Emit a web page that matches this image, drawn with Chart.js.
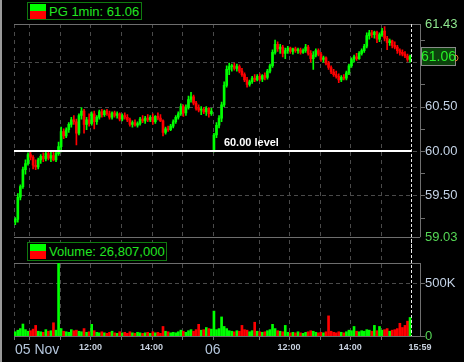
<!DOCTYPE html>
<html>
<head>
<meta charset="utf-8">
<script src="https://cdn.jsdelivr.net/npm/chart.js@4.4.0/dist/chart.umd.min.js"></script>
<style>
  html, body { margin: 0; padding: 0; background: #000; }
  #wrap { position: relative; width: 464px; height: 362px; background: #000; overflow: hidden; }
  #price { position: absolute; left: 0; top: 0; }
  #volume { position: absolute; left: 0; top: 240px; }
  #edge { position: absolute; left: 0; top: 0; width: 2px; height: 362px; background: #9a9a9a; }
  .leg { position: absolute; box-sizing: border-box; border: 1px solid #0f7a0f; background: #000;
         font: 13px "Liberation Sans", Arial, sans-serif; color: #22e622; white-space: nowrap; }
  .leg .g { position: absolute; left: 2px; top: 1px; width: 16px; height: 7px; background: #00ff00; }
  .leg .r { position: absolute; left: 2px; top: 8px; width: 16px; height: 8px; background: #ff0000; }
  .leg span { position: absolute; left: 21px; top: 1px; }
</style>
</head>
<body>
<div id="wrap">
  <canvas id="price" width="464" height="250"></canvas>
  <canvas id="volume" width="464" height="122"></canvas>
  <div id="edge"></div>
  <div class="leg" style="left:27px;top:2px;width:115px;height:18px"><i class="g"></i><i class="r"></i><span>PG 1min: 61.06</span></div>
  <div class="leg" style="left:27px;top:242px;width:140px;height:19px"><i class="g"></i><i class="r"></i><span>Volume: 26,807,000</span></div>
</div>
<script>
// 5-minute candles, 05 Nov (day 1) and 06 Nov (day 2), 09:30 - 16:00
const open1 = [59.20, 59.23, 59.48, 59.60, 59.79, 59.86, 59.96, 59.93, 59.84, 59.82,
  59.90, 59.94, 59.91, 59.97, 59.92, 59.95, 59.90, 59.97, 60.05, 60.22,
  60.17, 60.24, 60.30, 60.35, 60.33, 60.20, 60.40, 60.45, 60.30, 60.35,
  60.31, 60.42, 60.33, 60.38, 60.44, 60.41, 60.45, 60.42, 60.38, 60.43,
  60.40, 60.42, 60.36, 60.40, 60.38, 60.35, 60.30, 60.32, 60.29, 60.31,
  60.36, 60.34, 60.37, 60.35, 60.38, 60.33, 60.39, 60.37, 60.34, 60.21,
  60.25, 60.24, 60.28, 60.33, 60.38, 60.42, 60.50, 60.43, 60.49, 60.58,
  60.61, 60.54, 60.48, 60.46, 60.47, 60.44, 60.48, 60.42];
const high1 = [59.25, 59.52, 59.62, 59.82, 59.90, 59.98, 59.99, 59.95, 59.90, 59.92,
  59.96, 59.98, 59.99, 60.00, 60.00, 60.00, 59.99, 60.10, 60.27, 60.25,
  60.26, 60.32, 60.38, 60.40, 60.36, 60.42, 60.49, 60.47, 60.38, 60.42,
  60.44, 60.45, 60.40, 60.46, 60.47, 60.46, 60.47, 60.45, 60.44, 60.45,
  60.44, 60.43, 60.42, 60.43, 60.41, 60.37, 60.34, 60.35, 60.33, 60.38,
  60.40, 60.39, 60.41, 60.40, 60.42, 60.40, 60.43, 60.41, 60.35, 60.27,
  60.28, 60.30, 60.35, 60.40, 60.44, 60.53, 60.52, 60.52, 60.62, 60.66,
  60.63, 60.56, 60.52, 60.50, 60.49, 60.50, 60.49, 60.48];
const low1 = [59.17, 59.20, 59.45, 59.58, 59.74, 59.84, 59.90, 59.80, 59.79, 59.80,
  59.86, 59.88, 59.89, 59.90, 59.88, 59.89, 59.88, 59.95, 59.99, 60.14,
  60.15, 60.21, 60.27, 60.30, 60.07, 60.18, 60.36, 60.20, 60.24, 60.28,
  60.29, 60.25, 60.30, 60.36, 60.38, 60.39, 60.40, 60.36, 60.36, 60.38,
  60.37, 60.34, 60.34, 60.36, 60.33, 60.28, 60.27, 60.28, 60.27, 60.29,
  60.32, 60.31, 60.33, 60.33, 60.30, 60.31, 60.35, 60.33, 60.17, 60.19,
  60.22, 60.23, 60.26, 60.31, 60.36, 60.40, 60.39, 60.40, 60.47, 60.55,
  60.52, 60.46, 60.44, 60.41, 60.42, 60.40, 60.38, 60.40];
const close1 = [59.23, 59.48, 59.60, 59.79, 59.86, 59.96, 59.93, 59.84, 59.82, 59.90,
  59.94, 59.91, 59.97, 59.92, 59.95, 59.90, 59.97, 60.05, 60.22, 60.17,
  60.24, 60.30, 60.35, 60.33, 60.20, 60.40, 60.45, 60.30, 60.35, 60.31,
  60.42, 60.33, 60.38, 60.44, 60.41, 60.45, 60.42, 60.38, 60.43, 60.40,
  60.42, 60.36, 60.40, 60.38, 60.35, 60.30, 60.32, 60.29, 60.31, 60.36,
  60.34, 60.37, 60.35, 60.38, 60.33, 60.39, 60.37, 60.34, 60.21, 60.25,
  60.24, 60.28, 60.33, 60.38, 60.42, 60.50, 60.43, 60.49, 60.58, 60.61,
  60.54, 60.48, 60.46, 60.47, 60.44, 60.48, 60.42, 60.45];
const vol1 = [40, 55, 70, 113, 60, 45, 50, 65, 100, 45,
  40, 35, 60, 45, 50, 125, 55, 760, 70, 45,
  40, 35, 60, 50, 55, 45, 40, 70, 35, 40,
  110, 50, 35, 30, 40, 30, 25, 35, 45, 30,
  25, 40, 30, 35, 25, 40, 30, 25, 35, 30,
  25, 30, 35, 25, 40, 30, 35, 25, 90, 45,
  40, 30, 35, 30, 40, 55, 45, 35, 50, 60,
  45, 60, 110, 55, 60, 80, 70, 65];

const open2 = [60.00, 60.18, 60.29, 60.37, 60.52, 60.74, 60.92, 60.95, 60.96, 60.93,
  60.95, 60.90, 60.86, 60.80, 60.75, 60.78, 60.82, 60.80, 60.84, 60.81,
  60.85, 60.83, 60.90, 60.96, 61.11, 61.20, 61.15, 61.17, 61.10, 61.13,
  61.16, 61.12, 61.15, 61.13, 61.14, 61.11, 61.13, 61.17, 61.10, 61.04,
  61.08, 61.13, 61.09, 61.03, 61.05, 60.99, 60.94, 60.89, 60.86, 60.84,
  60.80, 60.83, 60.82, 60.88, 60.96, 61.03, 61.06, 61.04, 61.10, 61.13,
  61.18, 61.30, 61.33, 61.31, 61.34, 61.26, 61.31, 61.35, 61.27, 61.22,
  61.24, 61.19, 61.17, 61.13, 61.11, 61.09, 61.07, 61.03];
const high2 = [60.20, 60.32, 60.40, 60.55, 60.78, 60.96, 60.99, 60.98, 60.99, 60.98,
  60.97, 60.93, 60.88, 60.83, 60.80, 60.84, 60.86, 60.86, 60.87, 60.86,
  60.88, 60.92, 60.98, 61.14, 61.25, 61.23, 61.20, 61.19, 61.16, 61.18,
  61.17, 61.16, 61.17, 61.16, 61.16, 61.15, 61.20, 61.19, 61.13, 61.12,
  61.15, 61.15, 61.11, 61.07, 61.06, 61.01, 60.96, 60.92, 60.90, 60.87,
  60.85, 60.86, 60.90, 60.98, 61.05, 61.08, 61.10, 61.12, 61.15, 61.20,
  61.33, 61.36, 61.36, 61.35, 61.35, 61.33, 61.38, 61.40, 61.29, 61.26,
  61.25, 61.23, 61.19, 61.15, 61.14, 61.12, 61.09, 61.08];
const low2 = [59.99, 60.15, 60.26, 60.33, 60.50, 60.72, 60.86, 60.90, 60.91, 60.90,
  60.88, 60.84, 60.78, 60.72, 60.73, 60.76, 60.78, 60.79, 60.79, 60.78,
  60.80, 60.81, 60.88, 60.94, 61.09, 61.12, 61.10, 61.06, 61.04, 61.10,
  61.10, 61.09, 61.11, 61.10, 61.09, 61.10, 61.11, 61.08, 61.00, 60.92,
  61.06, 61.07, 61.01, 61.00, 60.97, 60.92, 60.87, 60.84, 60.82, 60.77,
  60.78, 60.80, 60.80, 60.86, 60.94, 61.00, 61.02, 61.03, 61.08, 61.11,
  61.16, 61.26, 61.28, 61.27, 61.22, 61.23, 61.29, 61.24, 61.14, 61.19,
  61.16, 61.15, 61.10, 61.08, 61.07, 61.05, 61.01, 61.00];
const close2 = [60.18, 60.29, 60.37, 60.52, 60.74, 60.92, 60.95, 60.96, 60.93, 60.95,
  60.90, 60.86, 60.80, 60.75, 60.78, 60.82, 60.80, 60.84, 60.81, 60.85,
  60.83, 60.90, 60.96, 61.11, 61.20, 61.15, 61.17, 61.10, 61.13, 61.16,
  61.12, 61.15, 61.13, 61.14, 61.11, 61.13, 61.17, 61.10, 61.04, 61.08,
  61.13, 61.09, 61.03, 61.05, 60.99, 60.94, 60.89, 60.86, 60.84, 60.80,
  60.83, 60.82, 60.88, 60.96, 61.03, 61.06, 61.04, 61.10, 61.13, 61.18,
  61.30, 61.33, 61.31, 61.34, 61.26, 61.31, 61.35, 61.27, 61.22, 61.24,
  61.19, 61.17, 61.13, 61.11, 61.09, 61.07, 61.03, 61.06];
const vol2 = [235, 60, 70, 180, 90, 70, 50, 45, 40, 50,
  45, 100, 60, 55, 40, 50, 130, 45, 40, 35,
  40, 50, 60, 110, 70, 50, 45, 40, 100, 35,
  30, 35, 30, 40, 30, 25, 35, 40, 50, 45,
  35, 30, 35, 30, 40, 190, 45, 35, 30, 40,
  35, 30, 40, 55, 50, 90, 45, 40, 50, 45,
  60, 55, 45, 100, 50, 90, 55, 60, 70, 45,
  55, 60, 70, 120, 80, 100, 140, 175];

// axis ticks
const priceLabels = [59.03, 59.5, 60, 60.5, 61.43];
const priceGrid = [59.5, 60, 60.5, 61];
const priceMinor = [59.25, 59.5, 59.75, 60, 60.25, 60.5, 60.75, 61, 61.25];
const volumeLabels = [0, 500];
// minutes from 09:30 on 05 Nov (session of 390 min per day)
const hourMarks = [0, 30, 90, 150, 210, 270, 330, 390, 480, 540, 600, 660, 720];
const timeLabels = [
  { m: 0, text: '05 Nov', big: true },
  { m: 150, text: '12:00' },
  { m: 270, text: '14:00' },
  { m: 390, text: '06', big: true },
  { m: 540, text: '12:00' },
  { m: 660, text: '14:00' },
];
const nowMinute = 779;
const levelPrice = 60;

const UP = '#00ff00';
const DOWN = '#ff0000';
const GRID = '#4a4a4a';
const AXIS = '#6e6e6e';
const LABEL = '#c4d3e6';

const open = open1.concat(open2);
const high = high1.concat(high2);
const low = low1.concat(low2);
const close = close1.concat(close2);
const volume = vol1.concat(vol2);
const minutes = [];
for (let k = 0; k < open1.length; k++) minutes.push(k * 5 + 2.5);
for (let k = 0; k < open2.length; k++) minutes.push(390 + k * 5 + 2.5);
const colors = close.map((c, i) => (c >= open[i] ? UP : DOWN));

function line(ctx, x1, y1, x2, y2) {
  ctx.beginPath();
  ctx.moveTo(x1, y1);
  ctx.lineTo(x2, y2);
  ctx.stroke();
}
function crisp(v) {
  return Math.round(v) + 0.5;
}

const pricePlugin = {
  id: 'priceDeco',
  beforeDatasetsDraw(chart) {
    const { ctx, chartArea: a, scales: { x, y } } = chart;
    ctx.save();
    ctx.lineWidth = 1;
    ctx.strokeStyle = GRID;
    ctx.setLineDash([4, 4]);
    hourMarks.forEach(m => {
      const px = crisp(x.getPixelForValue(m));
      line(ctx, px, a.top, px, chart.height);
    });
    ctx.setLineDash([4, 3]);
    priceGrid.forEach(v => {
      const py = crisp(y.getPixelForValue(v));
      line(ctx, a.left, py, a.right, py);
    });
    ctx.setLineDash([]);
    ctx.strokeStyle = AXIS;
    line(ctx, a.left, crisp(a.top), a.right, crisp(a.top));
    line(ctx, a.left, crisp(a.bottom), a.right, crisp(a.bottom));
    line(ctx, crisp(a.right), a.top, crisp(a.right), a.bottom);
    priceMinor.forEach(v => {
      const py = crisp(y.getPixelForValue(v));
      line(ctx, a.right, py, a.right + 5, py);
    });
    ctx.restore();
  },
  afterDatasetsDraw(chart) {
    const { ctx, chartArea: a, scales: { x, y } } = chart;
    const nowX = crisp(x.getPixelForValue(nowMinute));
    ctx.save();
    // 60.00 level line
    const ly = Math.round(y.getPixelForValue(levelPrice));
    ctx.strokeStyle = '#ffffff';
    ctx.lineWidth = 2;
    line(ctx, a.left, ly, nowX, ly);
    ctx.fillStyle = '#ffffff';
    ctx.font = 'bold 11px "Liberation Sans", Arial, sans-serif';
    ctx.textBaseline = 'alphabetic';
    ctx.fillText('60.00 level', x.getPixelForValue(412), ly - 5);
    // current time
    ctx.lineWidth = 1;
    ctx.strokeStyle = '#e8e8e8';
    ctx.setLineDash([3, 2]);
    line(ctx, nowX, a.top, nowX, chart.height);
    ctx.setLineDash([]);
    // last price box
    const last = close[close.length - 1];
    const cy = Math.round(y.getPixelForValue(last)) - 1;
    ctx.fillStyle = '#0c420c';
    ctx.fillRect(a.right + 1, cy - 9, 35, 19);
    ctx.strokeStyle = '#8a8a8a';
    ctx.strokeRect(a.right + 1.5, cy - 8.5, 34, 18);
    ctx.fillStyle = '#28f028';
    ctx.font = '14px "Liberation Sans", Arial, sans-serif';
    ctx.textAlign = 'center';
    ctx.textBaseline = 'middle';
    ctx.fillText(last.toFixed(2), a.right + 18.5, cy + 1);
    ctx.strokeStyle = '#e07a30';
    ctx.beginPath();
    ctx.arc(a.right + 35, cy + 2, 3, -Math.PI / 2, Math.PI / 2);
    ctx.stroke();
    ctx.restore();
  },
};

const volumePlugin = {
  id: 'volumeDeco',
  beforeDatasetsDraw(chart) {
    const { ctx, chartArea: a, scales: { x, y } } = chart;
    ctx.save();
    ctx.lineWidth = 1;
    ctx.strokeStyle = GRID;
    ctx.setLineDash([4, 4]);
    hourMarks.forEach(m => {
      const px = crisp(x.getPixelForValue(m));
      line(ctx, px, 0, px, a.bottom);
    });
    ctx.setLineDash([4, 3]);
    const gy = crisp(y.getPixelForValue(500));
    line(ctx, a.left, gy, a.right, gy);
    ctx.setLineDash([]);
    ctx.strokeStyle = AXIS;
    line(ctx, a.left, crisp(a.top), a.right, crisp(a.top));
    line(ctx, a.left, crisp(a.bottom), a.right, crisp(a.bottom));
    line(ctx, crisp(a.right), a.top, crisp(a.right), a.bottom);
    volumeLabels.forEach(v => {
      const py = crisp(y.getPixelForValue(v));
      line(ctx, a.right, py, a.right + 5, py);
    });
    hourMarks.forEach(m => {
      const px = crisp(x.getPixelForValue(m));
      line(ctx, px, a.bottom, px, a.bottom + 4);
    });
    ctx.restore();
  },
  afterDatasetsDraw(chart) {
    const { ctx, chartArea: a, scales: { x } } = chart;
    ctx.save();
    const nowX = crisp(x.getPixelForValue(nowMinute));
    ctx.strokeStyle = '#e8e8e8';
    ctx.setLineDash([3, 2]);
    line(ctx, nowX, 0, nowX, a.bottom);
    ctx.setLineDash([]);
    ctx.textBaseline = 'alphabetic';
    timeLabels.forEach(t => {
      const px = x.getPixelForValue(t.m);
      if (t.big) {
        ctx.font = '14px "Liberation Sans", Arial, sans-serif';
        ctx.fillStyle = '#b4c6dc';
        ctx.textAlign = t.m === 0 ? 'left' : 'center';
        ctx.fillText(t.text, t.m === 0 ? px + 1 : px, a.bottom + 18);
      } else {
        ctx.font = 'bold 9px "Liberation Sans", Arial, sans-serif';
        ctx.fillStyle = '#c8d2e0';
        ctx.textAlign = 'center';
        ctx.fillText(t.text, px, a.bottom + 14);
      }
    });
    ctx.font = 'bold 9px "Liberation Sans", Arial, sans-serif';
    ctx.fillStyle = '#c8d2e0';
    ctx.textAlign = 'center';
    ctx.fillText('15:59', a.right, a.bottom + 14);
    ctx.restore();
  },
};

const baseOptions = {
  responsive: false,
  animation: false,
  events: [],
  plugins: { legend: { display: false }, tooltip: { enabled: false } },
};

new Chart(document.getElementById('price'), {
  type: 'bar',
  data: {
    datasets: [
      {
        data: minutes.map((t, i) => ({ x: t, y: [low[i], high[i]] })),
        backgroundColor: colors,
        barThickness: 1,
        grouped: false,
        order: 2,
      },
      {
        data: minutes.map((t, i) => ({ x: t, y: [open[i], close[i]] })),
        backgroundColor: colors,
        barThickness: 2,
        minBarLength: 1,
        grouped: false,
        order: 1,
      },
    ],
  },
  options: {
    ...baseOptions,
    layout: { padding: { left: 14, top: 24, right: 0, bottom: 10 } },
    scales: {
      x: { type: 'linear', min: 0, max: 797, offset: false, display: false },
      y: {
        position: 'right',
        min: 59.03,
        max: 61.43,
        grid: { display: false, drawTicks: false },
        border: { display: false },
        afterBuildTicks: s => { s.ticks = priceLabels.map(v => ({ value: v })); },
        afterFit: s => { s.width = 44; },
        ticks: {
          padding: 5,
          autoSkip: false,
          font: { family: '"Liberation Sans", Arial, sans-serif', size: 13 },
          color: c => (c.tick.value === 61.43 ? '#8ee68e' : c.tick.value === 59.03 ? '#55d655' : LABEL),
          callback: v => v.toFixed(2),
        },
      },
    },
  },
  plugins: [pricePlugin],
});

new Chart(document.getElementById('volume'), {
  type: 'bar',
  data: {
    datasets: [
      {
        data: minutes.map((t, i) => ({ x: t, y: volume[i] })),
        backgroundColor: colors,
        barThickness: 2,
      },
    ],
  },
  options: {
    ...baseOptions,
    layout: { padding: { left: 14, top: 23, right: 0, bottom: 26 } },
    scales: {
      x: { type: 'linear', min: 0, max: 797, offset: false, display: false },
      y: {
        position: 'right',
        min: 0,
        max: 689,
        grid: { display: false, drawTicks: false },
        border: { display: false },
        afterBuildTicks: s => { s.ticks = volumeLabels.map(v => ({ value: v })); },
        afterFit: s => { s.width = 44; },
        ticks: {
          padding: 5,
          autoSkip: false,
          font: { family: '"Liberation Sans", Arial, sans-serif', size: 13 },
          color: c => (c.tick.value === 0 ? '#55d655' : LABEL),
          callback: v => (v === 0 ? '0' : v + 'K'),
        },
      },
    },
  },
  plugins: [volumePlugin],
});
</script>
</body>
</html>
